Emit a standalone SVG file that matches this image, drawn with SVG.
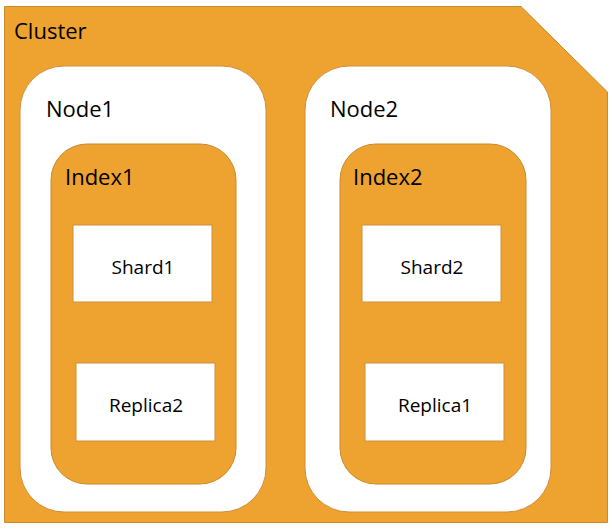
<svg xmlns="http://www.w3.org/2000/svg" width="612" height="529" viewBox="0 0 612 529">
<style>
.org{fill:#EEA22F;stroke:#C98A2C;stroke-width:1}
.wht{fill:#FFFFFF;stroke:#D08E3A;stroke-width:1}
text{font-family:"Open Sans","Noto Sans","Liberation Sans",sans-serif;fill:#000}
.big{font-size:22px}
.sm{font-size:19px;text-anchor:middle}
</style>
<rect width="612" height="529" fill="#FFFFFF"/>
<g id="cluster">
<polygon class="org" points="4.5,6.5 521,6.5 607.5,92 607.5,522.5 4.5,522.5"/>
<text class="big" x="14" y="39">Cluster</text>
</g>
<g id="node1">
<rect class="wht" x="20" y="66" width="246" height="446" rx="44" ry="44"/>
<text class="big" x="46" y="117">Node1</text>
</g>
<g id="node2">
<rect class="wht" x="305" y="66" width="246" height="446" rx="44" ry="44"/>
<text class="big" x="330" y="117">Node2</text>
</g>
<g id="index1">
<rect class="org" x="51" y="144" width="185" height="340" rx="36" ry="36"/>
<text class="big" x="65" y="185">Index1</text>
</g>
<g id="index2">
<rect class="org" x="340" y="144" width="186" height="340" rx="36" ry="36"/>
<text class="big" x="353" y="185">Index2</text>
</g>
<g id="shard1">
<rect class="wht" x="73" y="225" width="139" height="77"/>
<text class="sm" x="143" y="274">Shard1</text>
</g>
<g id="replica2">
<rect class="wht" x="76" y="363" width="139" height="78"/>
<text class="sm" x="146" y="412">Replica2</text>
</g>
<g id="shard2">
<rect class="wht" x="362" y="225" width="139" height="77"/>
<text class="sm" x="432" y="274">Shard2</text>
</g>
<g id="replica1">
<rect class="wht" x="365" y="363" width="139" height="78"/>
<text class="sm" x="435" y="412">Replica1</text>
</g>
<g id="connectors"></g>
</svg>
